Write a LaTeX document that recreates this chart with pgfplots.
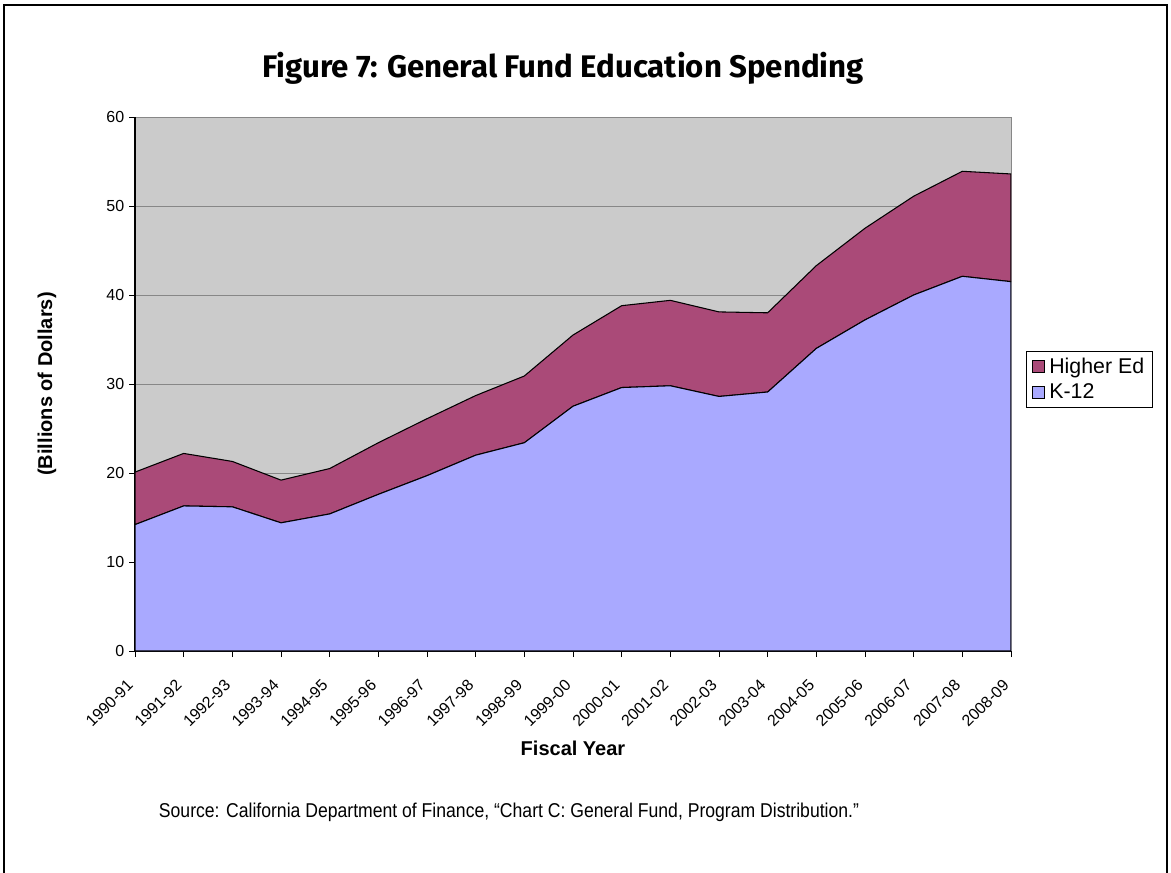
\documentclass[border=0pt]{standalone}
\usepackage{fontspec}
\setmainfont{Liberation Sans}
\newfontfamily\titlefont{Fira Sans}
\newfontfamily\narrowfont[FakeStretch=0.88]{Liberation Sans}
\usepackage{pgfplots}
\pgfplotsset{compat=1.18}
\definecolor{bggray}{RGB}{203,203,203}
\definecolor{hied}{RGB}{170,74,120}
\definecolor{k12}{RGB}{169,169,255}
\definecolor{gridgray}{RGB}{135,135,135}

\begin{document}
\begin{tikzpicture}
\path[use as bounding box] (0pt,0pt) rectangle (878.25pt,654pt);
\draw[line width=1.5pt] (3pt,-4pt) -- (3pt,650.25pt) -- (875.25pt,650.25pt) -- (875.25pt,-4pt);
\node[font=\titlefont\bfseries\fontsize{23.4}{27}\selectfont] at (422.25pt,603pt) {Figure 7: General Fund Education Spending};
\node[font=\narrowfont\fontsize{15}{18}\selectfont] at (381.75pt,45pt) {Source: California Department of Finance, “Chart C: General Fund, Program Distribution.”};
\begin{axis}[
  at={(101.25pt,165.75pt)}, anchor=south west,
  scale only axis, width=657pt, height=400.5pt,
  xmin=0, xmax=18, ymin=0, ymax=60,
  ytick={0,10,...,60},
  xtick={0,...,18},
  xticklabels={1990-91,1991-92,1992-93,1993-94,1994-95,1995-96,1996-97,1997-98,1998-99,1999-00,2000-01,2001-02,2002-03,2003-04,2004-05,2005-06,2006-07,2007-08,2008-09},
  /pgf/number format/assume math mode=true,
  axis background/.style={fill=bggray, draw=gridgray},
  axis x line*=bottom, axis y line*=left,
  axis line style={-, black, line width=0.8pt},
  ymajorgrids, major grid style={gridgray, line width=0.6pt},
  tick align=outside, major tick length=4.5pt,
  tick style={black, line width=0.6pt},
  ticklabel style={font=\fontsize{12}{14}\selectfont},
  xticklabel shift=15.5pt,
  xticklabel style={rotate=45, anchor=east, inner sep=1pt, xshift=-4pt},
  stack plots=y,
  xlabel={Fiscal Year},
  ylabel={(Billions of Dollars)},
  every axis x label/.style={at={(axis description cs:0.5,-0.1816)}, anchor=center, font=\bfseries\fontsize{15}{18}\selectfont},
  every axis y label/.style={at={(axis description cs:-0.1005,0.5)}, anchor=center, rotate=90, font=\bfseries\fontsize{15}{18}\selectfont},
  reverse legend,
  legend style={at={(axis description cs:1.0171,0.5618)}, anchor=north west, draw=black, fill=white,
    font=\fontsize{16}{19}\selectfont, inner xsep=4pt, inner ysep=3pt, row sep=2.5pt},
  legend cell align=left,
  legend image code/.code={\draw[#1, draw=black, line width=0.6pt] (0pt,-4.5pt) rectangle (9pt,4.5pt); \path[draw=none,fill=none] (0pt,0pt) -- (11pt,0pt);},
]
\addplot[fill=k12, draw=black, line width=0.8pt] coordinates {
(0,14.2) (1,16.3) (2,16.2) (3,14.4) (4,15.4) (5,17.6) (6,19.7) (7,22.0) (8,23.4) (9,27.5)
(10,29.6) (11,29.8) (12,28.6) (13,29.1) (14,34.0) (15,37.2) (16,40.0) (17,42.1) (18,41.5)} \closedcycle;
\addlegendentry{K-12}
\addplot[fill=hied, draw=black, line width=0.8pt] coordinates {
(0,5.9) (1,5.9) (2,5.1) (3,4.8) (4,5.1) (5,5.8) (6,6.4) (7,6.7) (8,7.5) (9,8.0)
(10,9.2) (11,9.6) (12,9.5) (13,8.9) (14,9.3) (15,10.3) (16,11.1) (17,11.8) (18,12.1)} \closedcycle;
\addlegendentry{Higher Ed}
\end{axis}
\end{tikzpicture}
\end{document}
